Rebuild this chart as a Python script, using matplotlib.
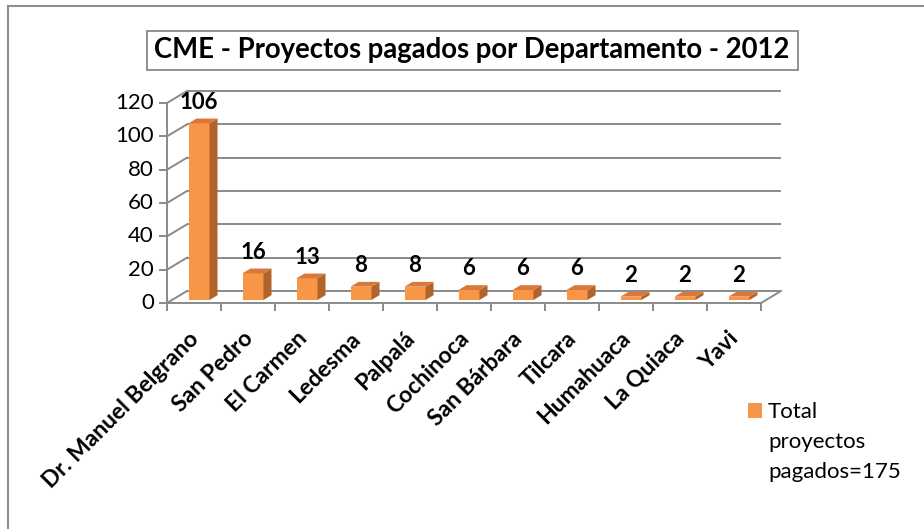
import matplotlib.pyplot as plt
from matplotlib.patches import Polygon, Rectangle

plt.rcParams["font.family"] = ["Lato", "DejaVu Sans"]

departamentos = ["Dr. Manuel Belgrano", "San Pedro", "El Carmen", "Ledesma", "Palpalá",
                 "Cochinoca", "San Bárbara", "Tilcara", "Humahuaca", "La Quiaca", "Yavi"]
proyectos = [106, 16, 13, 8, 8, 6, 6, 6, 2, 2, 2]
yticks = [0, 20, 40, 60, 80, 100, 120]
titulo = "CME - Proyectos pagados por Departamento - 2012"
leyenda = "Total\nproyectos\npagados=175"

FRONT = "#F79646"
SIDE = "#B0632B"
TOP = "#D9783A"
GRID = "#8A8A8A"

W, H = 924, 529
fig = plt.figure(figsize=(W / 100, H / 100), dpi=100)
ax = fig.add_axes([0, 0, 1, 1])

# pixel calibration of the front plane: x=-0.5 at 167px, 54px per category;
# value 0 at 303px from the top, 120 at 103px
px_cat, x0 = 54, 167
px_val, y0 = 200 / 120, 303
ax.set_xlim(-0.5 - x0 / px_cat, -0.5 + (W - x0) / px_cat)
ax.set_ylim(-(H - y0) / px_val, y0 / px_val)
ax.axis("off")

n = len(departamentos)
DX, DY = 20 / px_cat, 12 / px_val     # depth of the 3D box
left, right = -0.5, n - 0.5
lw = 1.4

# back wall gridlines and left side wall diagonals
for t in yticks:
    ax.plot([left + DX, right + DX], [t + DY, t + DY], color=GRID, lw=lw, zorder=1,
            solid_capstyle="butt")
    ax.plot([left, left + DX], [t, t + DY], color=GRID, lw=lw, zorder=1)
    ax.plot([left - 7 / px_cat, left], [t, t], color=GRID, lw=lw, zorder=1)
    ax.annotate(str(t), (left, t), xytext=(-13, 0), textcoords="offset pixels",
                ha="right", va="center", fontsize=16)

# front axis and floor
ax.plot([left, left], [0, yticks[-1]], color=GRID, lw=lw, zorder=1)
ax.plot([left, right], [0, 0], color=GRID, lw=lw, zorder=1)
ax.plot([right, right + DX], [0, DY], color=GRID, lw=lw, zorder=1)
for k in range(n + 1):
    ax.plot([k - 0.5, k - 0.5], [0, -7 / px_val], color=GRID, lw=lw, zorder=1)

# 3D columns
w = 21 / px_cat
f0, f1 = 0.25, 0.65
d = f1 - f0
for i, v in enumerate(proyectos):
    xl = i - w / 2 + f0 * DX
    xr = xl + w
    b = f0 * DY
    top = b + v
    ax.add_patch(Rectangle((xl, b), w, v, facecolor=FRONT, edgecolor="none", zorder=3))
    ax.add_patch(Polygon([(xr, b), (xr + d * DX, b + d * DY), (xr + d * DX, top + d * DY),
                          (xr, top)], closed=True, facecolor=SIDE, edgecolor="none", zorder=3))
    ax.add_patch(Polygon([(xl, top), (xr, top), (xr + d * DX, top + d * DY),
                          (xl + d * DX, top + d * DY)], closed=True, facecolor=TOP,
                         edgecolor="none", zorder=3))
    ax.annotate(str(v), (i + f0 * DX, top + d * DY), xytext=(0, 10), textcoords="offset pixels",
                ha="center", va="baseline", fontsize=16, fontweight="bold", zorder=4)
    ax.annotate(departamentos[i], (i, 0), xytext=(6, -37), textcoords="offset pixels",
                ha="right", va="baseline", rotation=45, rotation_mode="anchor",
                fontsize=16.5, fontweight="bold")

# title box
fig.patches.append(Rectangle((147 / W, 1 - 70 / H), (798 - 147) / W, 39 / H,
                             transform=fig.transFigure, facecolor="white",
                             edgecolor="#7F7F7F", lw=1.2))
fig.text(472 / W, 1 - 50 / H, titulo, ha="center", va="center", fontsize=19.8,
         fontweight="bold")

# legend
fig.patches.append(Rectangle((748 / W, 1 - 418 / H), 14 / W, 15 / H,
                             transform=fig.transFigure, facecolor=FRONT, edgecolor="none"))
fig.text(768 / W, 1 - 402 / H, leyenda, ha="left", va="top", fontsize=16, linespacing=1.62)

# outer chart border (left and top edges visible)
fig.patches.append(Rectangle((8 / W, -0.05), 1.1, 1 - 6 / H + 0.05,
                             transform=fig.transFigure, facecolor="none",
                             edgecolor="#8C8C8C", lw=1.5))

fig.savefig("out.png", dpi=100)
